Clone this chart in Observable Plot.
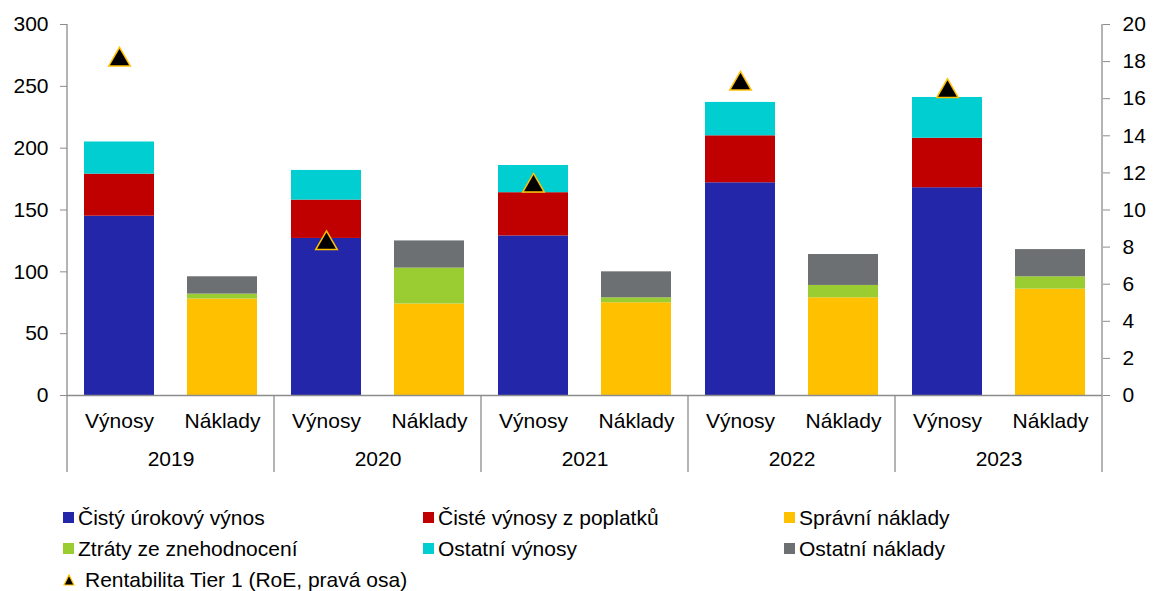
<!DOCTYPE html>
<html>
<head>
<meta charset="utf-8">
<script src="https://cdn.jsdelivr.net/npm/d3@7"></script>
<script src="https://cdn.jsdelivr.net/npm/@observablehq/plot@0.6"></script>
<style>
  body { margin: 0; background: white; font-family: "Liberation Sans", Arial, sans-serif; }
  #legend { display: grid; grid-template-columns: 360px 361px auto; grid-auto-rows: 31px; padding-left: 63px; margin-top: 22px; font-size: 21px; color: #000; }
  .item { display: flex; align-items: center; white-space: nowrap; }
  .sw { width: 11px; height: 11px; margin-right: 4px; flex: none; }
</style>
</head>
<body>
<div id="chart"></div>
<div id="legend"></div>
<script>
const years = ["2019", "2020", "2021", "2022", "2023"];
const types = ["Výnosy", "Náklady"];
const seriesNames = ["Čistý úrokový výnos", "Čisté výnosy z poplatků", "Správní náklady", "Ztráty ze znehodnocení", "Ostatní výnosy", "Ostatní náklady"];
const seriesColors = ["#2326A8", "#C00000", "#FFC000", "#9ACD32", "#00CED1", "#6D7072"];
const roeName = "Rentabilita Tier 1 (RoE, pravá osa)";

// Výnosy
const cistyUrokovyVynos = [145, 127, 129, 172, 168];
const vynosyPoplatky = [34, 31, 35, 38, 40];
const ostatniVynosy = [26, 24, 22, 27, 33];
// Náklady
const spravniNaklady = [78, 74, 75, 79, 86];
const ztratyZnehodnoceni = [4, 29, 4, 10, 10];
const ostatniNaklady = [14, 22, 21, 25, 22];
// RoE (right axis)
const roe = [18.1, 8.2, 11.3, 16.8, 16.4];

const leftTicks = [0, 50, 100, 150, 200, 250, 300];
const rightTicks = [0, 2, 4, 6, 8, 10, 12, 14, 16, 18, 20];
const ratio = 300 / 20;

const rows = [];
years.forEach((year, i) => {
  rows.push({year, type: "Výnosy", series: seriesNames[0], value: cistyUrokovyVynos[i]});
  rows.push({year, type: "Výnosy", series: seriesNames[1], value: vynosyPoplatky[i]});
  rows.push({year, type: "Výnosy", series: seriesNames[4], value: ostatniVynosy[i]});
  rows.push({year, type: "Náklady", series: seriesNames[2], value: spravniNaklady[i]});
  rows.push({year, type: "Náklady", series: seriesNames[3], value: ztratyZnehodnoceni[i]});
  rows.push({year, type: "Náklady", series: seriesNames[5], value: ostatniNaklady[i]});
});
const roeRows = years.map((year, i) => ({year, type: "Výnosy", roe: roe[i]}));

const axisGray = "#8c8c8c";
const H = 480;

const plot = Plot.plot({
  width: 1153,
  height: H,
  marginLeft: 65,
  marginRight: 50,
  marginTop: 24,
  marginBottom: 85,
  style: {fontFamily: "'Liberation Sans', Arial, sans-serif", fontSize: "21px", background: "white", color: "#000"},
  fx: {domain: years, padding: 0, axis: null, label: null},
  x: {domain: types, paddingInner: 0.316, paddingOuter: 0.158, axis: null, label: null},
  y: {domain: [0, 300], axis: null, label: null},
  color: {domain: seriesNames, range: seriesColors},
  marks: [
    Plot.barY(rows, {fx: "year", x: "type", y: "value", fill: "series"}),
    Plot.ruleY([0], {stroke: axisGray, strokeWidth: 1.3}),
    Plot.dot(roeRows, {fx: "year", x: "type", y: d => d.roe * ratio, symbol: "triangle", r: 8, fill: "black", stroke: "#FFC000", strokeWidth: 1.5}),
    Plot.axisY({anchor: "left", ticks: leftTicks, tickSize: 7, tickPadding: 12, label: null, stroke: axisGray}),
    Plot.axisY({anchor: "right", ticks: rightTicks.map(v => v * ratio), tickFormat: d => String(Math.round(d / ratio)), tickSize: 7, tickPadding: 13, label: null, stroke: axisGray}),
    Plot.axisX({anchor: "bottom", tickSize: 0, tickPadding: 18, label: null}),
    Plot.axisFx({anchor: "bottom", tickSize: 0, tickPadding: 56, label: null})
  ]
});

// separator / axis lines derived from the plot's own scales
const fx = plot.scale("fx");
const y = plot.scale("y");
const svg = d3.select(plot);
const edges = years.map(yr => fx.apply(yr));
edges.push(fx.apply(years[years.length - 1]) + fx.bandwidth);
edges.forEach((xPos, i) => {
  const outer = i === 0 || i === edges.length - 1;
  svg.append("line")
    .attr("x1", xPos).attr("x2", xPos)
    .attr("y1", outer ? y.apply(300) : y.apply(0))
    .attr("y2", H - 8)
    .attr("stroke", axisGray)
    .attr("stroke-width", 1.3);
});

document.getElementById("chart").appendChild(plot);

// legend
const legend = document.getElementById("legend");
[0, 1, 2, 3, 4, 5].forEach(i => {
  const it = document.createElement("div");
  it.className = "item";
  it.innerHTML = `<span class="sw" style="background:${seriesColors[i]}"></span><span>${seriesNames[i]}</span>`;
  legend.appendChild(it);
});
const tri = document.createElement("div");
tri.className = "item";
tri.style.gridColumn = "1 / span 3";
tri.innerHTML = `<svg width="12" height="12" style="margin-right:10px;flex:none"><path d="M6,1 L11,11 L1,11 Z" fill="black" stroke="#FFC000" stroke-width="1.2"/></svg><span>${roeName}</span>`;
legend.appendChild(tri);
</script>
</body>
</html>
